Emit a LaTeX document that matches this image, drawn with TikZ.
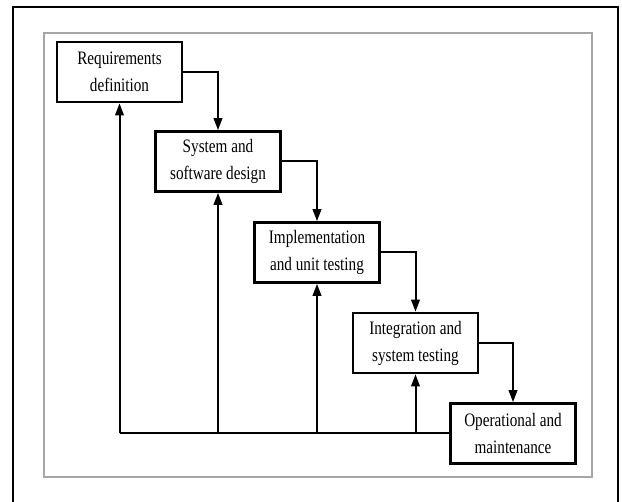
\documentclass[tikz,border=0pt]{standalone}
\usepackage{fontspec}
\setmainfont{Liberation Serif}
\newfontfamily\boxfont[FakeStretch=0.8]{Liberation Serif}
\usetikzlibrary{arrows.meta}
\tikzset{
  stage/.style={draw=black, line width=2.6pt, minimum width=125pt, minimum height=60pt,
    inner sep=0pt, align=center, font=\boxfont\fontsize{19}{27}\selectfont},
  flow/.style={line width=2pt, -{Triangle[length=12pt,width=8.5pt]}},
  plain/.style={line width=2pt}
}
\begin{document}
\begin{tikzpicture}[x=1pt,y=-1pt]
\useasboundingbox (0,0) rectangle (622,502);
\fill[white] (0,0) rectangle (622,502);
% outer border
\draw[line width=2pt] (13,502) -- (13,7) -- (618,7) -- (618,502);
% inner frame
\draw[gray!70, line width=1.5pt] (44,33) rectangle (592,477);
% boxes
\node[stage] (r) at (119.5,72) {Requirements\\definition};
\node[stage] (s) at (218,161.5) {System and\\software design};
\node[stage] (i) at (317,252.5) {Implementation\\and unit testing};
\node[stage] (t) at (415.5,343) {Integration and\\system testing};
\node[stage] (o) at (513,433.5) {Operational and\\maintenance};
% forward flow
\draw[flow] (r.east) -| (s.north);
\draw[flow] (s.east) -| (i.north);
\draw[flow] (i.east) -| (t.north);
\draw[flow] (t.east) -| (o.north);
% feedback
\coordinate (fb) at (r.south |- o.west);
\draw[plain] (o.west) -- (fb);
\draw[flow] (fb) -- (r.south);
\draw[flow] (s.south |- o.west) -- (s.south);
\draw[flow] (i.south |- o.west) -- (i.south);
\draw[flow] (t.south |- o.west) -- (t.south);
\end{tikzpicture}
\end{document}
